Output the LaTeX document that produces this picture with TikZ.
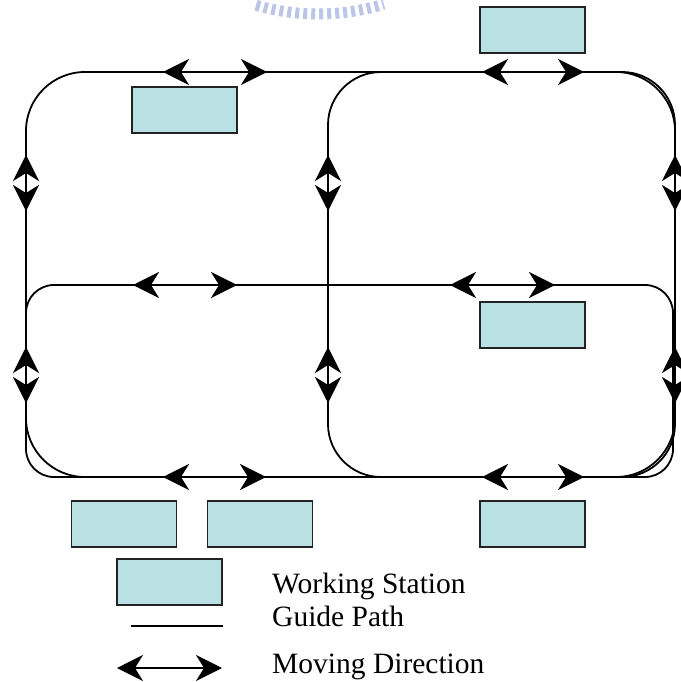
\documentclass[tikz,border=0pt]{standalone}
\usepackage{fontspec}
\setmainfont{Liberation Serif}
\usetikzlibrary{arrows.meta}
\definecolor{stationfill}{RGB}{185,224,227}
\definecolor{stationedge}{RGB}{35,35,35}
\definecolor{sealblue}{RGB}{120,138,212}
\tikzset{
  guide/.style={line width=1.8pt, black},
  mover/.style={line width=2.8pt, black,
    {Stealth[length=26pt,width=26pt,inset=8pt]}-{Stealth[length=26pt,width=26pt,inset=8pt]}},
  station/.style={draw=stationedge, fill=stationfill, line width=1.8pt,
    minimum width=105pt, minimum height=46pt, inner sep=0pt, outer sep=0pt},
  legendtext/.style={anchor=base west, inner sep=0pt,
    font=\fontsize{29.5}{32}\selectfont},
}
\begin{document}
\begin{tikzpicture}[x=1pt,y=-1pt]
\useasboundingbox (0,0) rectangle (680,682);

% faint seal at the top edge
\draw[sealblue, opacity=0.5, line width=11pt, dash pattern=on 4pt off 4pt]
  (256,5.3) arc[start angle=106, end angle=73, radius=225];

% guide path loops
\draw[guide, rounded corners=59pt] (26,72) rectangle (675,477);
\draw[guide, rounded corners=53pt] (328,72) rectangle (675,477);
\draw[guide, rounded corners=28pt] (26,285) rectangle (673,477);

% working stations
\node[station] (s1) at (184.5,110) {};
\node[station] (s2) at (532.5,30) {};
\node[station] (s3) at (532.5,325) {};
\node[station] (s4) at (532.5,524) {};
\node[station] (s5) at (124,524) {};
\node[station] (s6) at (260,524) {};

% moving directions, horizontal
\coordinate (h1a) at (163,72);  \coordinate (h1b) at (267,72);
\coordinate (h2a) at (482,72);  \coordinate (h2b) at (584,72);
\coordinate (h3a) at (133,285); \coordinate (h3b) at (237,285);
\coordinate (h4a) at (450,285); \coordinate (h4b) at (555,285);
\coordinate (h5a) at (163,477); \coordinate (h5b) at (266,477);
\coordinate (h6a) at (482,477); \coordinate (h6b) at (584,477);
\draw[mover] (h1a) -- (h1b);
\draw[mover] (h2a) -- (h2b);
\draw[mover] (h3a) -- (h3b);
\draw[mover] (h4a) -- (h4b);
\draw[mover] (h5a) -- (h5b);
\draw[mover] (h6a) -- (h6b);

% moving directions, vertical
\foreach \x/\n in {26/l, 328/m, 675/r}{
  \coordinate (v\n1a) at (\x,155); \coordinate (v\n1b) at (\x,211);
  \coordinate (v\n2a) at (\x,347); \coordinate (v\n2b) at (\x,403);
  \draw[mover] (v\n1a) -- (v\n1b);
  \draw[mover] (v\n2a) -- (v\n2b);
}

% legend
\node[station] (ls) at (169.5,582) {};
\coordinate (lga) at (131,626); \coordinate (lgb) at (223,626);
\draw[guide] (lga) -- (lgb);
\coordinate (lma) at (117,668); \coordinate (lmb) at (222,668);
\draw[mover, line width=1.8pt] (lma) -- (lmb);
\node[legendtext] (t1) at (272,593) {Working Station};
\node[legendtext] (t2) at (272,626) {Guide Path};
\node[legendtext] (t3) at (272,673) {Moving Direction};
\end{tikzpicture}
\end{document}
